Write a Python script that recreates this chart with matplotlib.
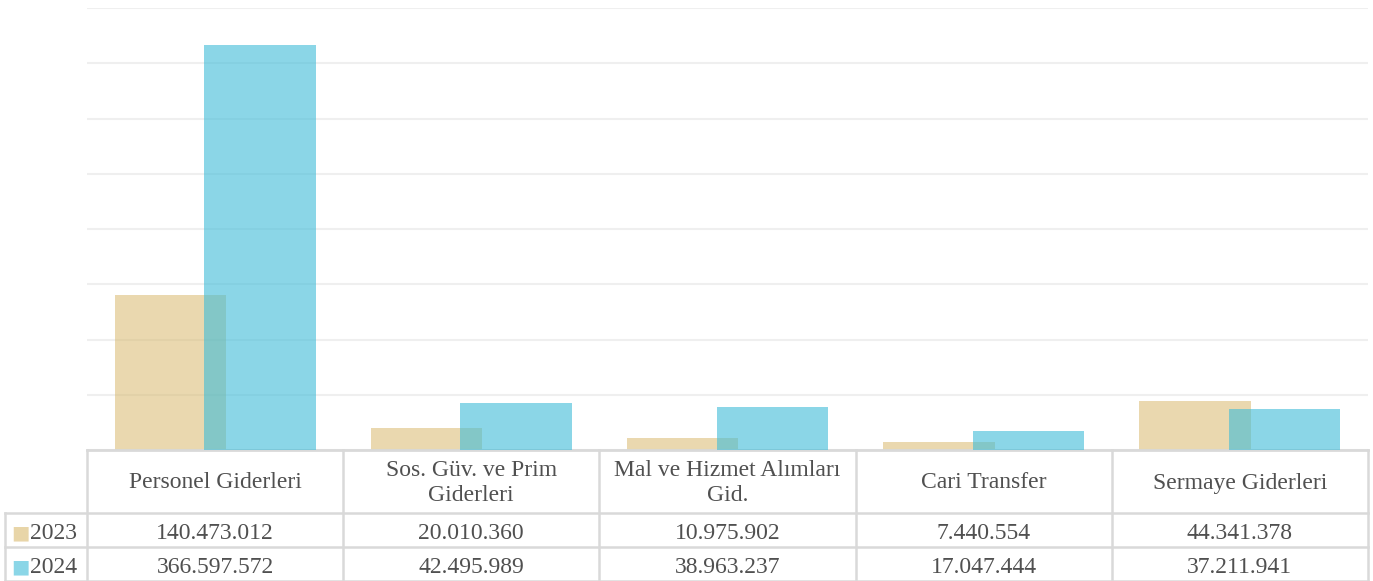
import matplotlib.pyplot as plt
from matplotlib.lines import Line2D
from matplotlib import transforms

categories = ['Personel Giderleri', 'Sos. Güv. ve Prim\nGiderleri',
              'Mal ve Hizmet Alımları\nGid.', 'Cari Transfer', 'Sermaye Giderleri']
years = ['2023', '2024']
values_2023 = [140473012, 20010360, 10975902, 7440554, 44341378]
values_2024 = [366597572, 42495989, 38963237, 17047444, 37211941]
colors = ['#d9b96e', '#3ebcd8']

W, H = 1373, 581
plt.rcParams['font.family'] = ['Liberation Serif', 'DejaVu Serif']
fig = plt.figure(figsize=(W / 100, H / 100), dpi=100)


def fy(py):
    # pixel row from top -> figure fraction
    return 1 - py / H


ax = fig.add_axes([87 / W, fy(450), (1368 - 87) / W, fy(8) - fy(450)])
x = list(range(len(categories)))
ax.bar([i - 0.175 for i in x], values_2023, width=0.435, color=colors[0], alpha=0.55, zorder=2)
ax.bar([i + 0.175 for i in x], values_2024, width=0.435, color=colors[1], alpha=0.6, zorder=3)
ax.set_xlim(-0.5, len(categories) - 0.5)
ax.set_ylim(0, 400e6)
ax.set_yticks([i * 50e6 for i in range(9)])
ax.grid(axis='y', color='#efefef', linewidth=1.5, zorder=0)
ax.tick_params(left=False, bottom=False, labelleft=False, labelbottom=False)
for s in ax.spines.values():
    s.set_visible(False)

# data table under the plot
line_c = '#d9d9d9'
text_c = '#505050'
fs = 17
tr = transforms.blended_transform_factory(ax.transData, fig.transFigure)
edges = [i - 0.5 for i in range(len(categories) + 1)]
rows = [450, 513, 547, 581]
for e in edges:
    ax.add_line(Line2D([e, e], [fy(450), fy(581)], transform=tr, color=line_c, lw=1.8, clip_on=False))
ax.add_line(Line2D([-0.5, 4.5], [fy(450), fy(450)], transform=tr, color=line_c, lw=2, clip_on=False))
for r in rows[1:]:
    fig.add_artist(Line2D([5 / W, 1368 / W], [fy(r), fy(r)], color=line_c, lw=1.8))
fig.add_artist(Line2D([5 / W, 5 / W], [fy(513), fy(581)], color=line_c, lw=1.8))

for i, cat in enumerate(categories):
    ax.text(i, fy(483), cat, transform=tr, ha='center', va='center', fontsize=fs,
            color=text_c, linespacing=1.25)
    for j, vals in enumerate([values_2023, values_2024]):
        ax.text(i, fy((rows[j + 1] + rows[j + 2]) / 2 + 1), f'{vals[i]:,}'.replace(',', '.'),
                transform=tr, ha='center', va='center_baseline', fontsize=fs, color=text_c)

for j, yr in enumerate(years):
    yc = fy((rows[j + 1] + rows[j + 2]) / 2 + 1)
    fig.text(11 / W, yc, '■', color=colors[j], alpha=0.6, ha='left', va='center_baseline',
             fontsize=14, family='DejaVu Sans')
    fig.text(30 / W, yc, yr, ha='left', va='center_baseline', fontsize=fs, color=text_c)

fig.savefig('out.png', dpi=100)
